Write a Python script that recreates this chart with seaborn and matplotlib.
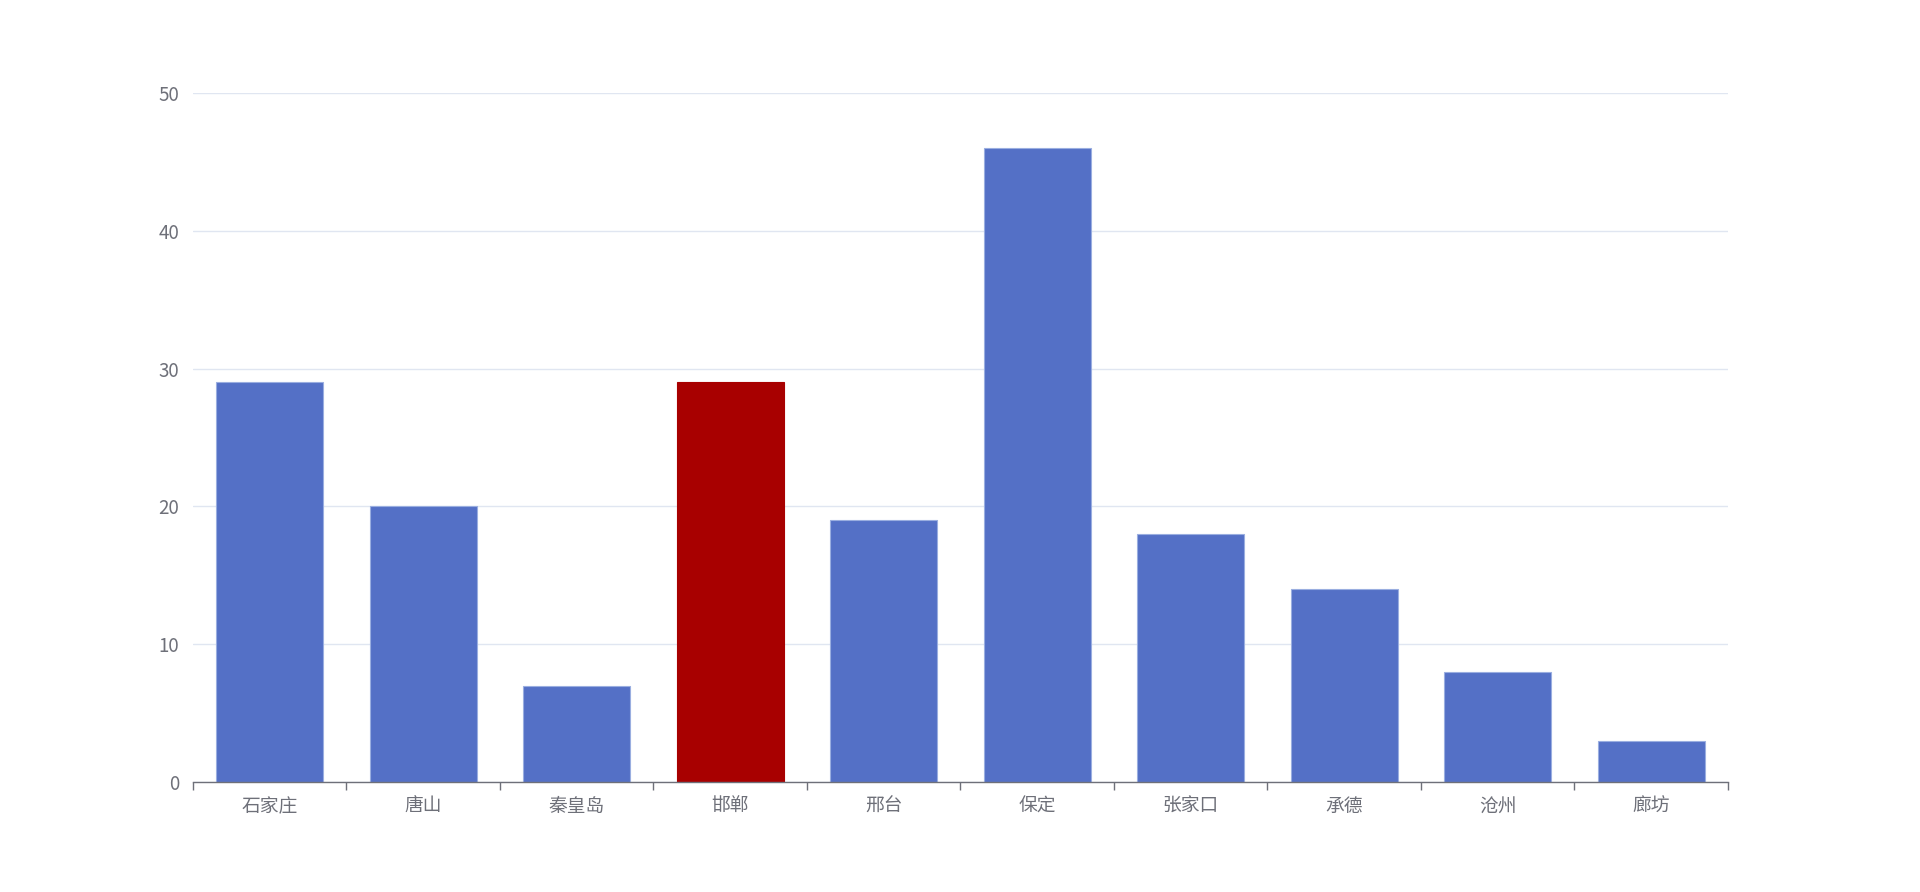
import numpy as np
import pandas as pd
import matplotlib
matplotlib.use("Agg")
import matplotlib.pyplot as plt
import seaborn as sns
from matplotlib.ticker import FixedLocator

cities = ["石家庄", "唐山", "秦皇岛", "邯郸", "邢台", "保定", "张家口", "承德", "沧州", "廊坊"]
values = [29, 20, 7, 29, 19, 46, 18, 14, 8, 3]
highlight = "邯郸"

blue = "#5470c6"
red = "#a80000"
colors = [red if c == highlight else blue for c in cities]

sns.set_style("white")
plt.rcParams['font.family'] = ['Noto Sans CJK SC', 'DejaVu Sans']

df = pd.DataFrame({"city": cities, "value": values})

fig = plt.figure(figsize=(19.2, 8.92), dpi=100)
ax = fig.add_axes([0.1005, 0.1233, 0.7995, 0.7724])

sns.barplot(data=df, x="city", y="value", hue="city", palette=colors,
            width=0.695, legend=False, ax=ax, saturation=1,
            edgecolor="#9aaee0", linewidth=0.8)

# red bar without the light edge
for p, c in zip(ax.patches, cities):
    if c == highlight:
        p.set_edgecolor(red)

ax.set_ylim(0, 50)
ax.set_xlim(-0.5, len(cities) - 0.5)
ax.set_yticks([0, 10, 20, 30, 40, 50])
ax.yaxis.grid(True, color="#e0e6f1", linewidth=1)
ax.set_axisbelow(True)
ax.set_xlabel("")
ax.set_ylabel("")

for s in ["top", "right", "left"]:
    ax.spines[s].set_visible(False)
ax.spines["bottom"].set_color("#6e7079")
ax.spines["bottom"].set_linewidth(1)

ax.tick_params(axis="x", which="major", bottom=True, length=0, pad=10, labelsize=13.5, labelcolor="#6e7079")
ax.xaxis.set_minor_locator(FixedLocator(np.arange(-0.5, len(cities), 1.0)))
ax.tick_params(axis="x", which="minor", bottom=True, length=6, width=1, color="#6e7079", direction="out")
ax.tick_params(axis="y", length=0, pad=10, labelsize=13.5, labelcolor="#6e7079")

fig.savefig("out.png", dpi=100)
